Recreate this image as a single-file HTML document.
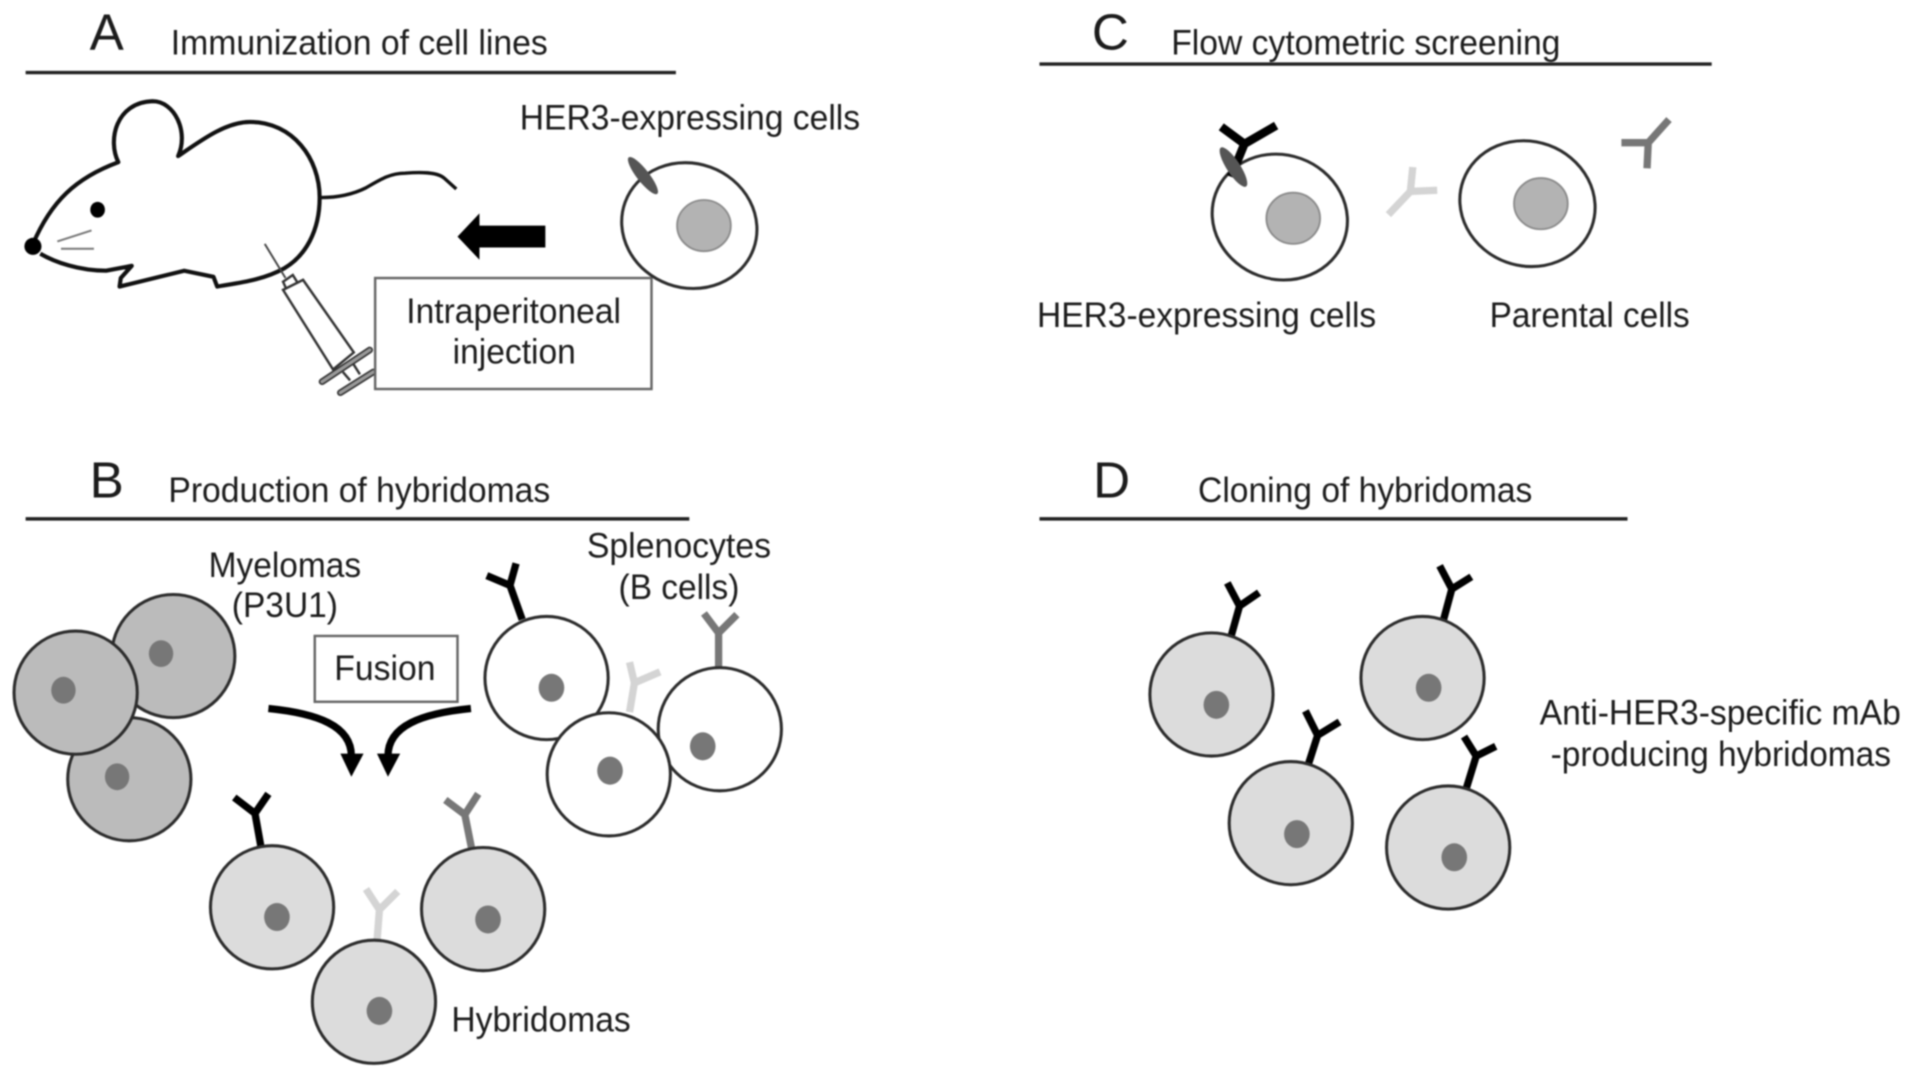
<!DOCTYPE html>
<html>
<head>
<meta charset="utf-8">
<style>
html,body{margin:0;padding:0;background:#fff;width:1913px;height:1078px;overflow:hidden}
svg{display:block;filter:blur(0.8px)}
text{font-family:"Liberation Sans",sans-serif;fill:#1c1c1c;font-size:28.5px}
.big{font-size:42px}
.c{stroke:#2c2c2c;stroke-width:2.5}
.my{fill:#bbb}.wh{fill:#fff}.hy{fill:#dcdcdc}
.n{fill:#777}
.ab{fill:none;stroke-width:6;stroke-linecap:butt;stroke-linejoin:miter}
.k{stroke:#000}.g{stroke:#777}.l{stroke:#d4d4d4}
.rule{stroke:#222;stroke-width:2.8}
</style>
</head>
<body>
<svg width="1913" height="1078" viewBox="0 0 1568 884" preserveAspectRatio="none" xmlns="http://www.w3.org/2000/svg">
<rect width="1568" height="884" fill="#fff"/>

<!-- rules -->
<line class="rule" x1="21" y1="59.5" x2="554" y2="59.5"/>
<line class="rule" x1="21" y1="425.5" x2="565" y2="425.5"/>
<line class="rule" x1="852" y1="52.5" x2="1403" y2="52.5"/>
<line class="rule" x1="852" y1="425.5" x2="1334" y2="425.5"/>

<!-- headings -->
<text class="big" x="73.5" y="41">A</text>
<text x="140" y="44.5" textLength="309" lengthAdjust="spacingAndGlyphs">Immunization of cell lines</text>
<text class="big" x="73.5" y="408">B</text>
<text x="138" y="411.5" textLength="313" lengthAdjust="spacingAndGlyphs">Production of hybridomas</text>
<text class="big" x="895" y="40.5">C</text>
<text x="960" y="44.5" textLength="319" lengthAdjust="spacingAndGlyphs">Flow cytometric screening</text>
<text class="big" x="896" y="408">D</text>
<text x="982" y="411.5" textLength="274" lengthAdjust="spacingAndGlyphs">Cloning of hybridomas</text>

<!-- Panel A: mouse -->
<path d="M27 200 C42 165 62 146 97 133 C88 115 95 84 125 83 C143 83 155 108 146 128 C165 115 185 100 205 100 C240 100 262 130 262 162 C262 190 250 210 233 220 C215 230 195 232 178 235 L175 227 L151 222 L98 235 L99 228 L108 218 L87 222 C65 222 45 215 33 208" fill="#fff" stroke="#111" stroke-width="3.4" stroke-linejoin="round"/>
<path d="M263 162 C275 162 288 160 300 154 C312 147 320 142 332 142 C345 141 358 141 364 146 L374 155" fill="none" stroke="#111" stroke-width="2.8"/>
<circle cx="27" cy="202" r="7" fill="#000"/>
<ellipse cx="80" cy="172" rx="6" ry="6.5" fill="#000"/>
<line x1="47" y1="198" x2="75" y2="189" stroke="#777" stroke-width="1.6"/>
<line x1="50" y1="204" x2="77" y2="204" stroke="#777" stroke-width="1.6"/>

<!-- syringe -->
<line x1="217" y1="200" x2="234" y2="228" stroke="#444" stroke-width="1.6"/>
<g fill="#fff" stroke="#333" stroke-width="2">
<polygon points="232,231 240,225.5 244,232 235,237.7"/>
<polygon points="232,237.7 248.4,229.5 290,289 273,303"/>
<line x1="281" y1="305" x2="287" y2="312"/>
<line x1="289" y1="297.5" x2="295" y2="307"/>
</g>
<g stroke-linecap="round">
<line x1="264" y1="313" x2="303" y2="287" stroke="#333" stroke-width="5.5"/>
<line x1="264" y1="313" x2="303" y2="287" stroke="#999" stroke-width="2.8"/>
<line x1="279" y1="322" x2="306" y2="305" stroke="#333" stroke-width="5.5"/>
<line x1="279" y1="322" x2="306" y2="305" stroke="#999" stroke-width="2.8"/>
</g>
<rect x="307.5" y="228" width="226.5" height="91" fill="#fff" stroke="#666" stroke-width="2"/>
<text x="333" y="265" textLength="176" lengthAdjust="spacingAndGlyphs">Intraperitoneal</text>
<text x="371" y="298" textLength="101" lengthAdjust="spacingAndGlyphs">injection</text>

<!-- arrow -->
<polygon points="375,194 393,175 393,185 447,185 447,203 393,203 393,213" fill="#000"/>

<!-- HER3 cell A -->
<text x="426" y="106" textLength="279" lengthAdjust="spacingAndGlyphs">HER3-expressing cells</text>
<ellipse class="c" cx="565" cy="185" rx="56" ry="51" fill="#fff" transform="rotate(20 565 185)"/>
<ellipse cx="577" cy="185" rx="22" ry="21" fill="#b3b3b3" stroke="#8a8a8a" stroke-width="1.5"/>
<ellipse cx="527" cy="144" rx="19" ry="5" fill="#555" transform="rotate(52 527 144)"/>

<!-- Panel B: myelomas -->
<circle class="c my" cx="106" cy="639" r="50.5"/><ellipse class="n" cx="96" cy="637" rx="10" ry="11"/>
<circle class="c my" cx="142" cy="538" r="50.5"/><ellipse class="n" cx="132" cy="536" rx="10" ry="11"/>
<circle class="c my" cx="62" cy="568" r="50.5"/><ellipse class="n" cx="52" cy="566" rx="10" ry="11"/>
<text x="171" y="473" textLength="125" lengthAdjust="spacingAndGlyphs">Myelomas</text>
<text x="190" y="506" textLength="87" lengthAdjust="spacingAndGlyphs">(P3U1)</text>

<!-- Fusion -->
<rect x="258" y="521.5" width="117" height="54" fill="#fff" stroke="#666" stroke-width="2"/>
<text x="274" y="557.5" textLength="83" lengthAdjust="spacingAndGlyphs">Fusion</text>
<path d="M220 581 C260 585 288 595 288 620" fill="none" stroke="#000" stroke-width="6"/>
<polygon points="279,618 298,618 288,637" fill="#000"/>
<path d="M386 581 C346 585 318 595 318 620" fill="none" stroke="#000" stroke-width="6"/>
<polygon points="309,618 328,618 318,637" fill="#000"/>

<!-- B cells -->
<path class="ab l" d="M516 584 L520 560 M516 543 L520 560 L541 551"/>
<path class="ab k" d="M428 508 L418 480 M423 462 L418 480 L399 472"/>
<path class="ab g" d="M589 548 L589 519 M577 503 L589 519 L604 504"/>
<circle class="c wh" cx="448" cy="556" r="50.5"/><ellipse class="n" cx="452" cy="564" rx="10.5" ry="11.5"/>
<circle class="c wh" cx="590" cy="598" r="50.5"/><ellipse class="n" cx="576" cy="612" rx="10.5" ry="11.5"/>
<circle class="c wh" cx="499" cy="635" r="50.5"/><ellipse class="n" cx="500" cy="632" rx="10.5" ry="11.5"/>
<text x="481" y="457" textLength="151" lengthAdjust="spacingAndGlyphs">Splenocytes</text>
<text x="507" y="491" textLength="99" lengthAdjust="spacingAndGlyphs">(B cells)</text>

<!-- Hybridomas -->
<path class="ab k" d="M214 695 L209 667 M220 651 L209 667 L192 654"/>
<path class="ab g" d="M387 698 L381 668 M392 651 L381 668 L365 656"/>
<path class="ab l" d="M309 772 L311 746 M300 729 L311 746 L326 731"/>
<circle class="c hy" cx="223" cy="744" r="50.5"/><ellipse class="n" cx="227" cy="752" rx="10.5" ry="11.5"/>
<circle class="c hy" cx="396" cy="745.5" r="50.5"/><ellipse class="n" cx="400" cy="754" rx="10.5" ry="11.5"/>
<circle class="c hy" cx="306.5" cy="821.5" r="50.5"/><ellipse class="n" cx="311" cy="829" rx="10.5" ry="11.5"/>
<text x="370" y="846" textLength="147" lengthAdjust="spacingAndGlyphs">Hybridomas</text>

<!-- Panel C -->
<ellipse class="c" cx="1049" cy="178" rx="56" ry="51" fill="#fff" transform="rotate(20 1049 178)"/>
<ellipse cx="1060" cy="179" rx="22" ry="21" fill="#b3b3b3" stroke="#8a8a8a" stroke-width="1.5"/>
<path class="ab k" d="M1009 145 L1020 118 M1001 104 L1020 118 L1046 103" style="stroke-width:7"/>
<ellipse cx="1011" cy="137" rx="19" ry="5.5" fill="#555" transform="rotate(57 1011 137)"/>
<ellipse class="c" cx="1252" cy="167" rx="56" ry="51" fill="#fff" transform="rotate(20 1252 167)"/>
<ellipse cx="1263" cy="167" rx="22" ry="21" fill="#b3b3b3" stroke="#8a8a8a" stroke-width="1.5"/>
<path class="ab l" d="M1138 176 L1156 157 M1158 137 L1156 157 L1178 156"/>
<path class="ab g" d="M1350 138 L1351 117 M1329 117 L1351 117 L1368 98"/>
<text x="850" y="268" textLength="278" lengthAdjust="spacingAndGlyphs">HER3-expressing cells</text>
<text x="1221" y="268" textLength="164" lengthAdjust="spacingAndGlyphs">Parental cells</text>

<!-- Panel D -->
<path class="ab k" d="M1009 522 L1016 497 M1006 478 L1016 497 L1032 486"/>
<path class="ab k" d="M1183 509 L1190 483 M1180 464 L1190 483 L1206 473"/>
<path class="ab k" d="M1072 628 L1080 603 M1070 583 L1080 603 L1098 592"/>
<path class="ab k" d="M1202 646 L1210 620 M1200 604 L1210 620 L1226 612"/>
<circle class="c hy" cx="993" cy="569.5" r="50.5"/><ellipse class="n" cx="997" cy="578" rx="10.5" ry="11.5"/>
<circle class="c hy" cx="1166" cy="556" r="50.5"/><ellipse class="n" cx="1171" cy="564" rx="10.5" ry="11.5"/>
<circle class="c hy" cx="1058" cy="675" r="50.5"/><ellipse class="n" cx="1063" cy="684" rx="10.5" ry="11.5"/>
<circle class="c hy" cx="1187" cy="695" r="50.5"/><ellipse class="n" cx="1192" cy="703" rx="10.5" ry="11.5"/>
<text x="1262" y="594" textLength="296" lengthAdjust="spacingAndGlyphs">Anti-HER3-specific mAb</text>
<text x="1271" y="628" textLength="279" lengthAdjust="spacingAndGlyphs">-producing hybridomas</text>
</svg>
</body>
</html>
